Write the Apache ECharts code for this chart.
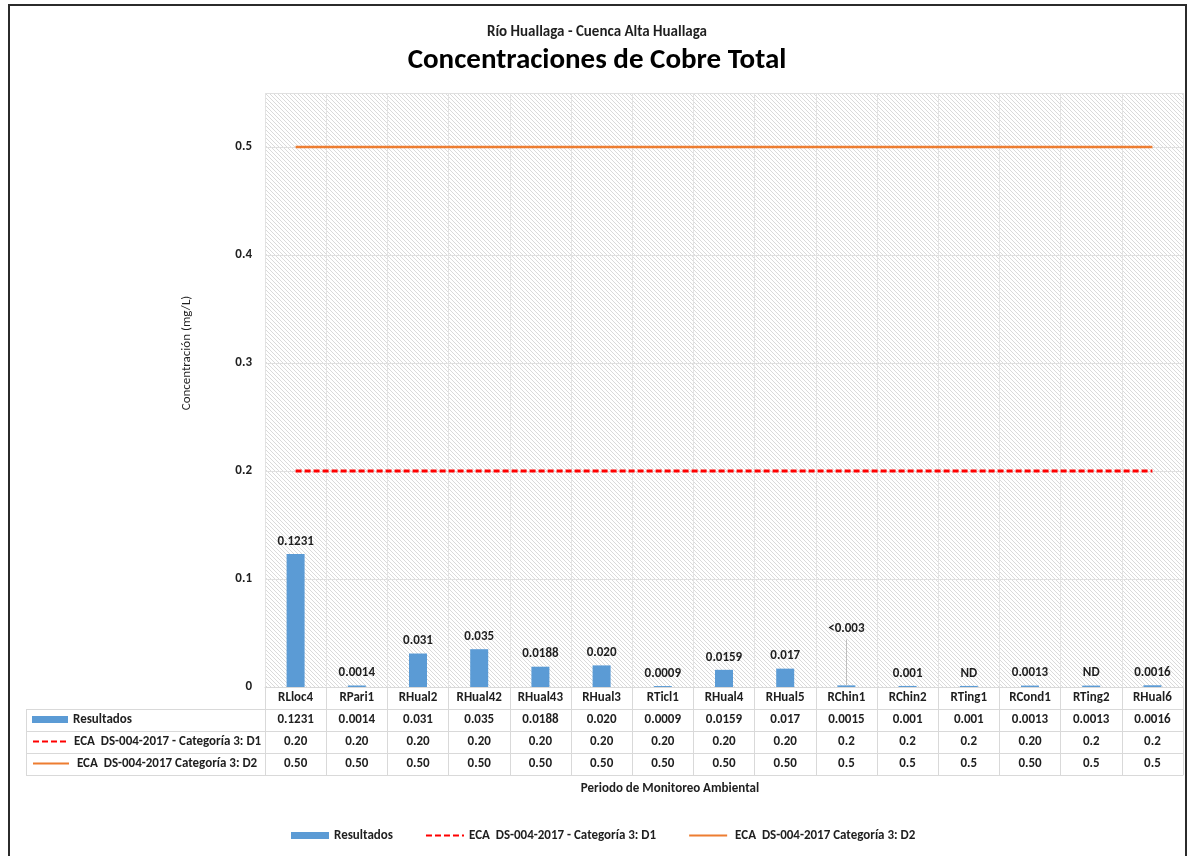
<!DOCTYPE html>
<html>
<head>
<meta charset="utf-8">
<script src="https://cdn.jsdelivr.net/npm/echarts@6/dist/echarts.min.js"></script>
<style>
  html, body { margin: 0; padding: 0; background: #ffffff; }
  #chart { width: 1194px; height: 856px; }
</style>
</head>
<body>
<div id="chart"></div>
<script>
// Monitoring stations (x categories)
const stations = ['RLloc4', 'RPari1', 'RHual2', 'RHual42', 'RHual43', 'RHual3', 'RTicl1', 'RHual4',
  'RHual5', 'RChin1', 'RChin2', 'RTing1', 'RCond1', 'RTing2', 'RHual6'];

// Total copper results (mg/L)
const resultados = [0.1231, 0.0014, 0.031, 0.035, 0.0188, 0.020, 0.0009, 0.0159,
  0.017, 0.0015, 0.001, 0.001, 0.0013, 0.0013, 0.0016];
// Labels printed above the bars
const resultadosLabels = ['0.1231', '0.0014', '0.031', '0.035', '0.0188', '0.020', '0.0009', '0.0159',
  '0.017', '<0.003', '0.001', 'ND', '0.0013', 'ND', '0.0016'];
// Values printed in the data table
const resultadosTable = ['0.1231', '0.0014', '0.031', '0.035', '0.0188', '0.020', '0.0009', '0.0159',
  '0.017', '0.0015', '0.001', '0.001', '0.0013', '0.0013', '0.0016'];

// ECA DS-004-2017 Categoría 3 limits
const ecaD1 = [0.2, 0.2, 0.2, 0.2, 0.2, 0.2, 0.2, 0.2, 0.2, 0.2, 0.2, 0.2, 0.2, 0.2, 0.2];
const ecaD1Table = ['0.20', '0.20', '0.20', '0.20', '0.20', '0.20', '0.20', '0.20',
  '0.20', '0.2', '0.2', '0.2', '0.20', '0.2', '0.2'];
const ecaD2 = [0.5, 0.5, 0.5, 0.5, 0.5, 0.5, 0.5, 0.5, 0.5, 0.5, 0.5, 0.5, 0.5, 0.5, 0.5];
const ecaD2Table = ['0.50', '0.50', '0.50', '0.50', '0.50', '0.50', '0.50', '0.50',
  '0.50', '0.5', '0.5', '0.5', '0.50', '0.5', '0.5'];

// Value axis range
const yMin = 0;
const yMax = 0.55;
const yStep = 0.1;

// Station whose label is pulled up with a leader line, and where that line ends
const leaderIndex = 9;
const leaderTop = 0.044;

const NAME_RES = 'Resultados';
const NAME_D1 = 'ECA  DS-004-2017 - Categoría 3: D1';
const NAME_D2 = ' ECA  DS-004-2017 Categoría 3: D2';

const FONT = 'Carlito, Calibri, Lato, "Noto Sans", sans-serif';
const TEXT = '#1f1f1f';
const RULE = '#d9d9d9';

// Light downward-diagonal hatch for the plot background
function hatch() {
  const c = document.createElement('canvas');
  c.width = 4; c.height = 4;
  const g = c.getContext('2d');
  g.fillStyle = '#ffffff';
  g.fillRect(0, 0, 4, 4);
  g.fillStyle = '#dadada';
  for (let i = 0; i < 4; i++) g.fillRect(i, i, 1, 1);
  return c;
}

const labelStyle = { fontFamily: FONT, fontWeight: 'bold', fontSize: 13, color: TEXT };

function tableAxis(offset, texts) {
  return {
    type: 'category', data: stations, position: 'bottom', offset: offset,
    axisLine: { show: true, lineStyle: { color: RULE, width: 1 } },
    axisTick: { show: false },
    splitLine: { show: false },
    axisLabel: texts ? Object.assign({ show: true, interval: 0, margin: 4,
      formatter: (v, i) => texts[i] }, labelStyle) : { show: false }
  };
}

// legend entry for a line series: only the stroke, no marker
const lineEntry = name => ({ name: name, itemStyle: { opacity: 0 } });
const legendText = Object.assign({ lineHeight: 15 }, labelStyle);

const chart = echarts.init(document.getElementById('chart'), null, { renderer: 'canvas' });

const barData = resultados.map((v, i) => i === leaderIndex
  ? { value: v, label: { offset: [0, -44] } }
  : v);

const option = {
  backgroundColor: '#ffffff',
  animation: false,
  title: [
    { text: 'Río Huallaga - Cuenca Alta Huallaga', left: 'center', top: 25, padding: 0,
      textStyle: { fontFamily: FONT, fontWeight: 'bold', fontSize: 15, color: TEXT } },
    { text: 'Concentraciones de Cobre Total', left: 'center', top: 46, padding: 0,
      textStyle: { fontFamily: FONT, fontWeight: 'bold', fontSize: 29, color: '#000000' } }
  ],
  grid: {
    left: 265, top: 93, width: 918, height: 594,
    show: true, borderWidth: 0,
    backgroundColor: { image: hatch(), repeat: 'repeat' }
  },
  legend: [
    { data: [{ name: NAME_RES, icon: 'rect' }], left: 32, top: 712, padding: 0,
      itemWidth: 36, itemHeight: 7, selectedMode: false, textStyle: legendText },
    { data: [lineEntry(NAME_D1)], left: 32, top: 734, padding: 0,
      itemWidth: 36, itemHeight: 7, selectedMode: false, textStyle: legendText },
    { data: [lineEntry(NAME_D2)], left: 32, top: 756, padding: 0,
      itemWidth: 36, itemHeight: 7, selectedMode: false, textStyle: legendText },
    { data: [{ name: NAME_RES, icon: 'rect' }, lineEntry(NAME_D1), lineEntry(NAME_D2)],
      left: 291, top: 828, padding: 0,
      itemWidth: 38, itemHeight: 7, itemGap: 32, selectedMode: false, textStyle: legendText }
  ],
  xAxis: [
    {
      type: 'category', data: stations, position: 'bottom',
      axisLine: { show: true, lineStyle: { color: RULE, width: 1 } },
      axisTick: { show: true, interval: 0, length: 88, lineStyle: { color: RULE } },
      splitLine: { show: true, interval: 0, lineStyle: { color: '#e3e3e3', width: 1 } },
      axisLabel: Object.assign({ interval: 0, margin: 4 }, labelStyle)
    },
    tableAxis(22, resultadosTable),
    tableAxis(44, ecaD1Table),
    tableAxis(66, ecaD2Table),
    tableAxis(88, null)
  ],
  yAxis: {
    type: 'value', min: yMin, max: yMax, interval: yStep,
    axisLine: { show: false }, axisTick: { show: false },
    splitLine: { show: true, lineStyle: { color: '#e0e0e0', width: 1 } },
    axisLabel: Object.assign({ margin: 13, showMaxLabel: false,
      formatter: v => String(Math.round(v * 10) / 10) }, labelStyle)
  },
  series: [
    {
      name: NAME_RES, type: 'bar', xAxisIndex: 0, data: barData,
      barWidth: 18,
      itemStyle: { color: '#5B9BD5' },
      label: Object.assign({ show: true, position: 'top', distance: 6,
        formatter: p => resultadosLabels[p.dataIndex] }, labelStyle),
      markLine: {
        silent: true, symbol: ['none', 'none'],
        label: { show: false },
        lineStyle: { color: '#bfbfbf', width: 1, type: 'solid' },
        data: [[{ coord: [leaderIndex, resultados[leaderIndex]] }, { coord: [leaderIndex, leaderTop] }]]
      },
      z: 3
    },
    {
      name: NAME_D1, type: 'line', xAxisIndex: 0, data: ecaD1,
      symbol: 'none', itemStyle: { color: '#FF0000' },
      lineStyle: { color: '#FF0000', width: 3, type: [6, 3] }, z: 4
    },
    {
      name: NAME_D2, type: 'line', xAxisIndex: 0, data: ecaD2,
      symbol: 'none', itemStyle: { color: '#ED7D31' },
      lineStyle: { color: '#ED7D31', width: 2.5 }, z: 4
    }
  ],
  graphic: [
    // outer frame
    { type: 'rect', silent: true, shape: { x: 9, y: 5, width: 1177, height: 870 },
      style: { fill: 'none', stroke: '#2b2b2b', lineWidth: 2 } },
    // table rules in the label column
    { type: 'line', silent: true, shape: { x1: 26, y1: 709.5, x2: 265, y2: 709.5 }, style: { stroke: RULE, lineWidth: 1 } },
    { type: 'line', silent: true, shape: { x1: 26, y1: 731.5, x2: 265, y2: 731.5 }, style: { stroke: RULE, lineWidth: 1 } },
    { type: 'line', silent: true, shape: { x1: 26, y1: 753.5, x2: 265, y2: 753.5 }, style: { stroke: RULE, lineWidth: 1 } },
    { type: 'line', silent: true, shape: { x1: 26, y1: 775.5, x2: 265, y2: 775.5 }, style: { stroke: RULE, lineWidth: 1 } },
    { type: 'line', silent: true, shape: { x1: 26.5, y1: 709, x2: 26.5, y2: 776 }, style: { stroke: RULE, lineWidth: 1 } },
    // axis titles
    { type: 'text', silent: true, x: 187, y: 353, rotation: Math.PI / 2,
      style: { text: 'Concentración (mg/L)', fill: TEXT, font: '13px ' + FONT,
        align: 'center', verticalAlign: 'middle' } },
    { type: 'text', silent: true, x: 670, y: 789,
      style: { text: 'Periodo de Monitoreo Ambiental', fill: TEXT, font: 'bold 13px ' + FONT,
        align: 'center', verticalAlign: 'middle' } }
  ]
};

chart.setOption(option);
</script>
</body>
</html>
